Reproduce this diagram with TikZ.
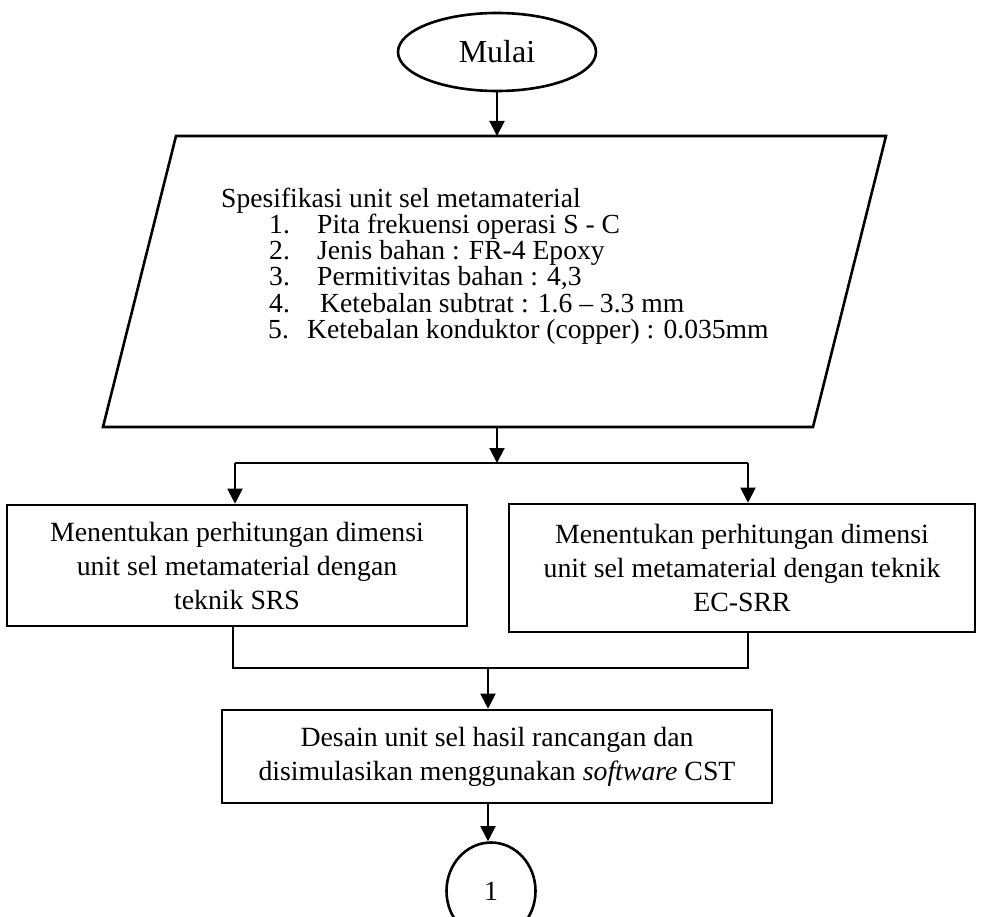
\documentclass[tikz,border=0pt]{standalone}
\usepackage{fontspec}
\setmainfont{Liberation Serif}
\usetikzlibrary{arrows.meta,shapes.geometric,calc}
\begin{document}
\begin{tikzpicture}[x=1pt,y=-1pt,
  arr/.style={-{Triangle[width=15pt,length=15pt]}, line width=2pt},
  thinline/.style={line width=1.3pt},
  outline/.style={draw, line width=2.6pt},
  boxnode/.style={outline, rectangle, align=center, inner sep=0pt, font=\fontsize{27.8}{34}\selectfont},
  listtext/.style={anchor=base west, inner sep=0pt, font=\fontsize{27.6}{26}\selectfont},
]
\useasboundingbox (0,0) rectangle (982,917);
% start
\node[outline, ellipse, minimum width=198pt, minimum height=78pt, inner sep=0pt,
      font=\fontsize{32}{36}\selectfont] (mulai) at (497,52) {\raisebox{-2pt}{Mulai}};
% parallelogram
\coordinate (pBL) at (103,427);
\coordinate (pTL) at (176,136);
\coordinate (pTR) at (886,136);
\coordinate (pBR) at (813,427);
\coordinate (pTop) at (497,136);
\coordinate (pBot) at (497,427);
\draw[line width=2.6pt, line join=miter] (pBL) -- (pTL) -- (pTR) -- (pBR) -- cycle;
\node[listtext] (spec) at (221,208) {Spesifikasi unit sel metamaterial};
\node[listtext] (n1) at (269,234) {1.};
\node[listtext] (t1) at (317,234) {Pita frekuensi operasi S - C};
\node[listtext] (n2) at (269,260) {2.};
\node[listtext] (t2) at (317,260) {Jenis bahan : FR-4 Epoxy};
\node[listtext] (n3) at (269,286) {3.};
\node[listtext] (t3) at (317,286) {Permitivitas bahan : 4,3};
\node[listtext] (n4) at (269,312) {4.};
\node[listtext] (t4) at (320,312) {Ketebalan subtrat : 1.6 – 3.3 mm};
\node[listtext] (n5) at (268,338) {5.};
\node[listtext] (t5) at (307,338) {Ketebalan konduktor (copper) : 0.035mm};
% process boxes
\node[boxnode, minimum width=460pt, minimum height=121pt] (L) at (237,565.5)
  {Menentukan perhitungan dimensi\\unit sel metamaterial dengan\\teknik SRS};
\node[boxnode, minimum width=466pt, minimum height=128pt] (R) at (742,568)
  {Menentukan perhitungan dimensi\\unit sel metamaterial dengan teknik\\EC-SRR};
\node[boxnode, minimum width=550pt, minimum height=93pt] (D) at (497,756.5)
  {Desain unit sel hasil rancangan dan\\disimulasikan menggunakan \textit{software} CST};
\node[outline, ellipse, minimum width=89pt, minimum height=97pt, inner sep=0pt,
      font=\fontsize{27.8}{30}\selectfont] (C) at (491,891) {1};
% connectors
\coordinate (split) at (497,463);
\coordinate (splitL) at (235,463);
\coordinate (splitR) at (748,463);
\coordinate (mergeL) at (233,668);
\coordinate (mergeR) at (748,668);
\coordinate (merge) at (488,668);
\draw[arr] (mulai.south) -- (pTop);
\draw[arr] (pBot) -- (split);
\draw[thinline] (splitL) -- (splitR);
\draw[arr] (splitL) -- (splitL |- L.north);
\draw[arr] (splitR) -- (splitR |- R.north);
\draw[thinline] (mergeL |- L.south) -- (mergeL) -- (mergeR) -- (mergeR |- R.south);
\draw[arr] (merge) -- (merge |- D.north);
\draw[arr] (merge |- D.south) -- (merge |- C.north);
\end{tikzpicture}
\end{document}
